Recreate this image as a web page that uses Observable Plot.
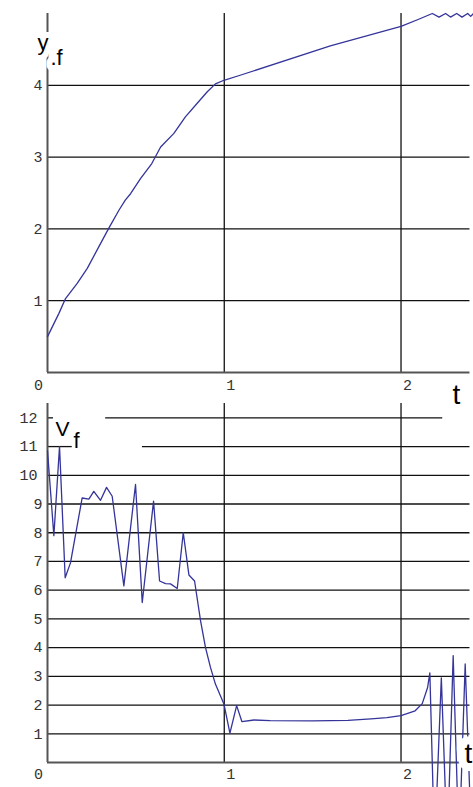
<!DOCTYPE html>
<html><head><meta charset="utf-8">
<script src="https://cdn.jsdelivr.net/npm/d3@7"></script>
<script src="https://cdn.jsdelivr.net/npm/@observablehq/plot@0.6"></script>
<style>
html,body{margin:0;padding:0;background:#fff;overflow:hidden}
#chart svg{display:block;overflow:visible;background:none}
</style></head><body><div id="chart"></div>
<script>
// top panel: y_f(t)
const topT = [0, 0.064, 0.102, 0.168, 0.225, 0.29, 0.347, 0.404, 0.44, 0.47, 0.526, 0.59, 0.64, 0.715, 0.78, 0.847, 0.904, 0.95, 0.998, 1.09, 1.6, 2.0, 2.1, 2.177, 2.215, 2.252, 2.28, 2.315, 2.345, 2.377, 2.394, 2.41];
const topY = [0.5, 0.82, 1.03, 1.24, 1.45, 1.75, 2.01, 2.26, 2.4, 2.49, 2.70, 2.91, 3.14, 3.33, 3.56, 3.75, 3.91, 4.02, 4.07, 4.14, 4.55, 4.82, 4.92, 5.0, 4.95, 5.0, 4.95, 5.0, 4.95, 5.0, 4.96, 5.0];
// bottom panel: v_f(t)
const botT = [0, 0.036, 0.068, 0.10, 0.13, 0.196, 0.234, 0.262, 0.30, 0.334, 0.366, 0.432, 0.498, 0.536, 0.60, 0.634, 0.668, 0.696, 0.734, 0.768, 0.80, 0.832, 0.866, 0.894, 0.922, 0.95, 0.998, 1.032, 1.07, 1.10, 1.168, 1.26, 1.5, 1.7, 1.83, 1.92, 2.0, 2.08, 2.12, 2.15, 2.163, 2.19, 2.228, 2.262, 2.295, 2.328, 2.363, 2.40];
const botV = [10.85, 7.9, 11.0, 6.43, 6.95, 9.21, 9.17, 9.44, 9.13, 9.58, 9.27, 6.15, 9.68, 5.57, 9.1, 6.32, 6.23, 6.22, 6.06, 8.0, 6.53, 6.32, 4.93, 4.0, 3.31, 2.73, 2.04, 1.02, 1.98, 1.42, 1.48, 1.46, 1.45, 1.47, 1.52, 1.56, 1.63, 1.8, 2.05, 2.6, 3.12, -3, 2.95, -3, 3.72, -3, 3.43, -3];

const xTicks = [0, 1, 2];
const topYTicks = [1, 2, 3, 4];
const botYTicks = [1, 2, 3, 4, 5, 6, 7, 8, 9, 10, 11, 12];
// visible pieces of the bottom grid lines (value, from t, to t)
const botGridV    = [1, 2, 3, 4, 5, 6, 7, 8, 9, 10, 11, 11, 12, 12];
const botGridFrom = [0, 0, 0, 0, 0, 0, 0, 0, 0, 0, 0, 0.537, 0, 0.329];
const botGridTo   = [2.39, 2.39, 2.39, 2.39, 2.39, 2.39, 2.39, 2.39, 2.39, 2.39, 0.14, 2.39, 0.034, 2.236];
const xMax = 2.41, gridEnd = 2.39;
const topYMax = 5, botVMax = 12.5;

const W = 473;
const curveColor = "#34349a";
const gridColor = "#111";
const axisColor = "#555";
const tickFont = {fontFamily: "Liberation Mono", fontSize: 15, fill: "#333"};
const labelFont = {fontFamily: "Liberation Sans", fill: "#000"};

const topData = topT.map((t, i) => ({t, y: topY[i]}));
const botData = botT.map((t, i) => ({t, v: botV[i]}));
const gridData = botGridV.map((v, i) => ({v, from: botGridFrom[i], to: botGridTo[i]}));

const topPlot = Plot.plot({
  width: W, height: 400,
  marginLeft: 47, marginRight: 0, marginTop: 13, marginBottom: 28,
  x: {domain: [0, xMax], axis: null},
  y: {domain: [0, topYMax], axis: null},
  style: {overflow: "visible", background: "none"},
  marks: [
    Plot.ruleY(topYTicks, {y: d => d, x1: () => 0, x2: () => gridEnd, stroke: gridColor, strokeWidth: 1.3}),
    Plot.ruleX(xTicks.filter(d => d > 0), {x: d => d, y1: () => 0, y2: () => topYMax, stroke: gridColor, strokeWidth: 1.3}),
    Plot.ruleY([0], {y: d => d, x1: () => 0, x2: () => gridEnd, stroke: axisColor, strokeWidth: 2}),
    Plot.ruleX([0], {x: d => d, y1: () => 0, y2: () => topYMax, stroke: axisColor, strokeWidth: 2}),
    Plot.line(topData, {x: "t", y: "y", stroke: curveColor, strokeWidth: 1.3}),
    Plot.text(topYTicks, {y: d => d, text: d => String(d), frameAnchor: "left", textAnchor: "end", dx: -5, ...tickFont}),
    Plot.text(xTicks.filter(d => d === 0), {x: d => d, text: d => String(d), frameAnchor: "bottom", dx: -9, dy: 17, ...tickFont}),
    Plot.text(xTicks.filter(d => d > 0), {x: d => d, text: d => String(d), frameAnchor: "bottom", dx: 6.5, dy: 17, ...tickFont}),
    Plot.text(["y"], {text: d => d, frameAnchor: "top-left", textAnchor: "start", lineAnchor: "bottom", dx: -10, dy: 36, fontSize: 22, stroke: "white", strokeWidth: 12, ...labelFont}),
    Plot.text([".f"], {text: d => d, frameAnchor: "top-left", textAnchor: "start", lineAnchor: "bottom", dx: 3, dy: 51, fontSize: 22, stroke: "white", strokeWidth: 12, ...labelFont}),
    Plot.text(["t"], {text: d => d, frameAnchor: "bottom-right", textAnchor: "start", lineAnchor: "bottom", dx: -21, dy: 31, fontSize: 28, ...labelFont})
  ]
});

const botPlot = Plot.plot({
  width: W, height: 387,
  marginLeft: 47, marginRight: 0, marginTop: 3, marginBottom: 25,
  x: {domain: [0, xMax], axis: null},
  y: {domain: [0, botVMax], axis: null},
  style: {overflow: "visible", background: "none"},
  marks: [
    Plot.ruleY(gridData, {y: "v", x1: "from", x2: "to", stroke: gridColor, strokeWidth: 1.3}),
    Plot.ruleX(xTicks.filter(d => d > 0), {x: d => d, y1: () => 0, y2: () => botVMax, stroke: gridColor, strokeWidth: 1.3}),
    Plot.ruleY([0], {y: d => d, x1: () => 0, x2: () => gridEnd, stroke: axisColor, strokeWidth: 2}),
    Plot.ruleX([0], {x: d => d, y1: () => 0, y2: () => botVMax, stroke: axisColor, strokeWidth: 2}),
    Plot.line(botData, {x: "t", y: "v", stroke: curveColor, strokeWidth: 1.3}),
    Plot.text(botYTicks.filter(d => d < 10), {y: d => d, text: d => String(d), frameAnchor: "left", textAnchor: "end", dx: -5, ...tickFont}),
    Plot.text(botYTicks.filter(d => d >= 10), {y: d => d, text: d => String(d), frameAnchor: "left", textAnchor: "end", dx: -10, ...tickFont}),
    Plot.text(xTicks.filter(d => d === 0), {x: d => d, text: d => String(d), frameAnchor: "bottom", dx: -9, dy: 16, ...tickFont}),
    Plot.text(xTicks.filter(d => d > 0), {x: d => d, text: d => String(d), frameAnchor: "bottom", dx: 6.5, dy: 16, ...tickFont}),
    Plot.text(["V"], {text: d => d, frameAnchor: "top-left", textAnchor: "start", lineAnchor: "bottom", dx: 8, dy: 32, fontSize: 21, ...labelFont}),
    Plot.text(["f"], {text: d => d, frameAnchor: "top-left", textAnchor: "start", lineAnchor: "bottom", dx: 26, dy: 44, fontSize: 22, ...labelFont}),
    Plot.text(["t"], {text: d => d, frameAnchor: "bottom-right", textAnchor: "start", lineAnchor: "bottom", dx: -9, dy: 0, fontSize: 28, stroke: "white", strokeWidth: 16, ...labelFont})
  ]
});

const chart = document.getElementById("chart");
chart.appendChild(topPlot);
chart.appendChild(botPlot);
</script>
</body></html>
